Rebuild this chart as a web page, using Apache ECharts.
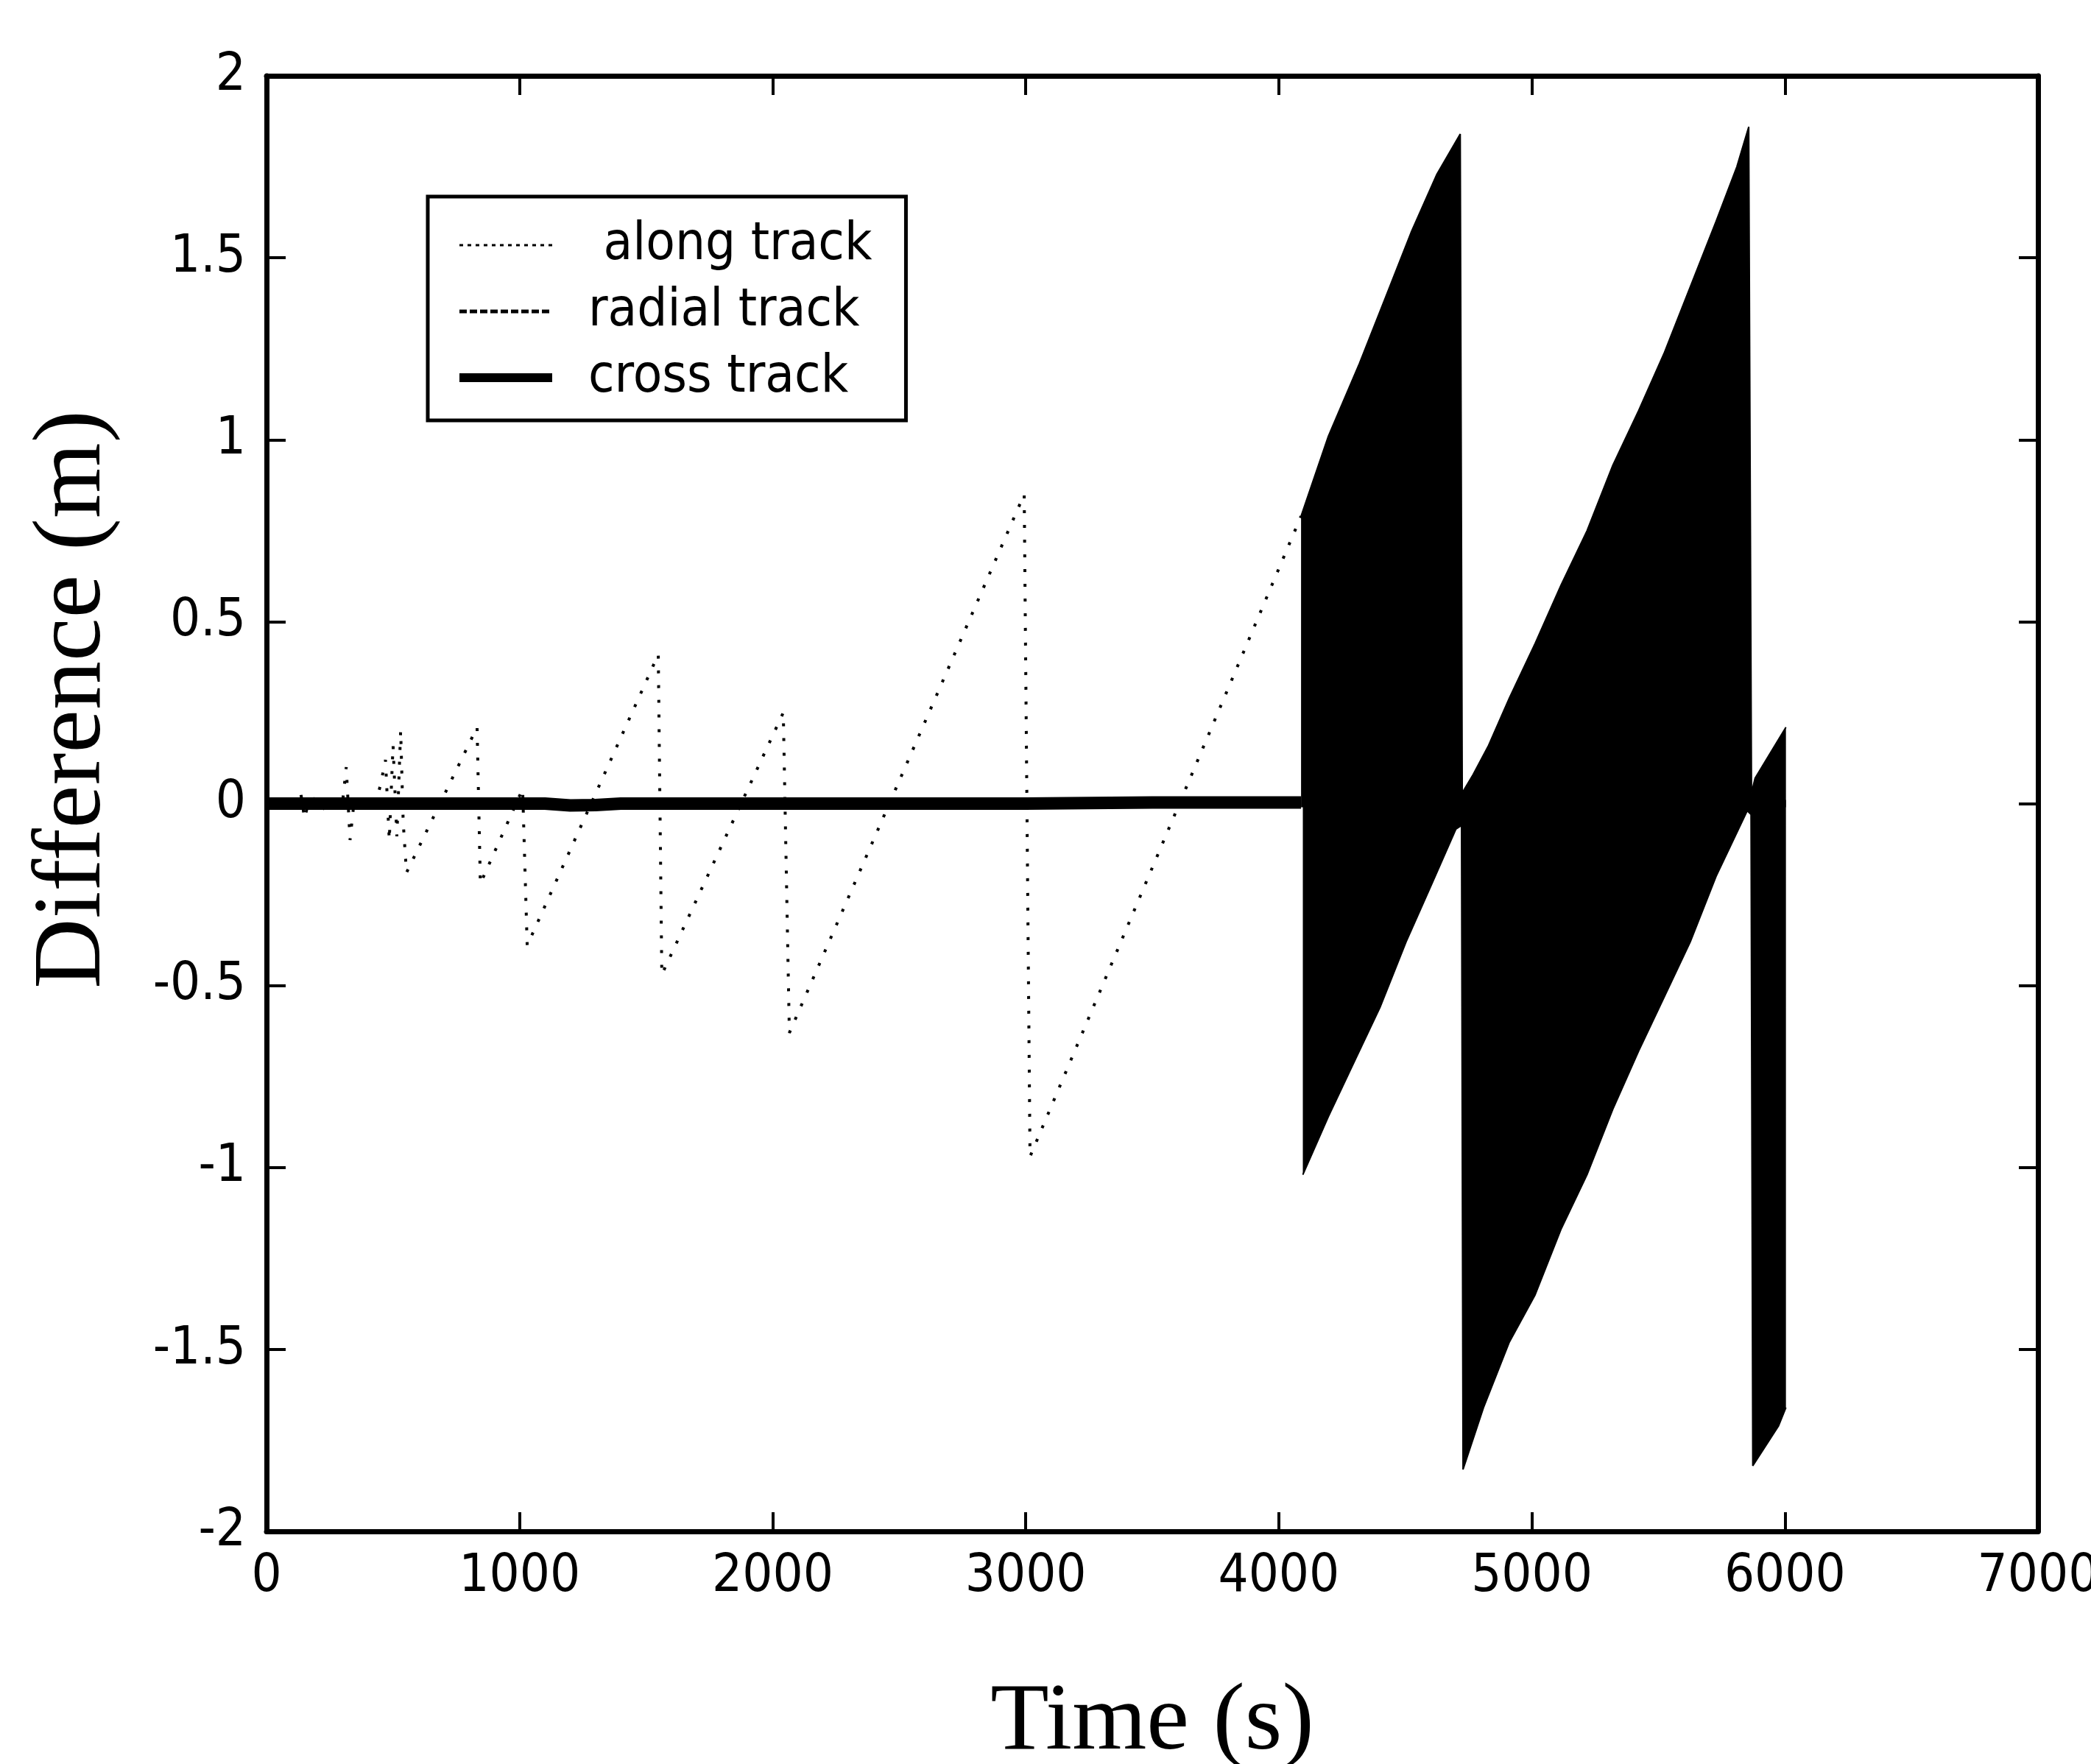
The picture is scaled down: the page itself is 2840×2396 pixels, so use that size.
<!DOCTYPE html>
<html>
<head>
<meta charset="utf-8">
<script src="https://cdn.jsdelivr.net/npm/echarts@6/dist/echarts.min.js"></script>
<style>
  html, body { margin: 0; padding: 0; background: #fff; }
  #chart { width: 2840px; height: 2396px; }
</style>
</head>
<body>
<div id="chart"></div>
<script>
// along track: sawtooth ramps [time (s), difference (m)]
var alongTrack = [
    [0, 0.0], [120, 0.0], [135, 0.03], [150, -0.04], [165, 0.0],
    [200, 0.02], [215, -0.03], [230, 0.0], [300, 0.0], [315, 0.1],
    [330, -0.1], [345, 0.0], [430, 0.0], [450, 0.05], [470, 0.12],
    [485, -0.1], [500, 0.16], [515, -0.09], [530, 0.2], [540, -0.05],
    [553, -0.19], [832, 0.21], [845, -0.22], [1012, 0.04], [1030, -0.39],
    [1548, 0.41], [1562, -0.47], [2042, 0.25], [2066, -0.63], [2994, 0.85],
    [3017, -0.97], [4088, 0.79]
];
// dense oscillating part after 4088 s, kept as its two envelopes
var bandUpper = [
    [4088, 0.79], [4196, 1.01], [4319, 1.21], [4421, 1.39], [4523, 1.57],
    [4625, 1.73], [4717, 1.84], [4725, 0.03], [4768, 0.08], [4829, 0.16],
    [4911, 0.29], [5013, 0.44], [5115, 0.6], [5218, 0.75], [5320, 0.93],
    [5422, 1.08], [5524, 1.24], [5626, 1.42], [5728, 1.6], [5810, 1.75],
    [5857, 1.86], [5868, 0.03], [5882, 0.07], [6004, 0.21]
];
var bandLower = [
    [4095, -1.02], [4196, -0.86], [4298, -0.71], [4400, -0.56], [4503, -0.38],
    [4605, -0.22], [4700, -0.07], [4722, -0.06], [4728, -1.83], [4809, -1.66],
    [4911, -1.48], [5013, -1.35], [5115, -1.17], [5218, -1.02], [5320, -0.84],
    [5422, -0.68], [5524, -0.53], [5626, -0.38], [5728, -0.2], [5851, -0.02],
    [5866, -0.03], [5873, -1.82], [5975, -1.71], [6004, -1.66]
];
var radialTrack = [[0, 0.0], [4088, 0.0]];
var crossTrack = [
    [0, 0.0], [1100, 0.0], [1200, -0.005], [1300, -0.004], [1400, 0.0],
    [3000, 0.0], [3500, 0.003], [4088, 0.003]
];
var xTicks = [0, 7000, 1000];
var yTicks = [-2, 2, 0.5];

var narrow = "'Liberation Sans Narrow', 'DejaVu Sans Condensed', 'Liberation Sans', sans-serif";
var serif = "'Liberation Serif', 'DejaVu Serif', serif";
var clear = 'rgba(0,0,0,0)';

var frameLine = { show: true, onZero: false, lineStyle: { color: '#000', width: 7 } };
var tickIn = { show: true, inside: true, length: 26, lineStyle: { color: '#000', width: 4 } };

var chart = echarts.init(document.getElementById('chart'));
chart.setOption({
    animation: false,
    backgroundColor: '#fff',
    grid: { left: 362, top: 103, right: 72, bottom: 316, outerBoundsMode: 'none' },
    legend: {
        orient: 'vertical',
        left: 581,
        top: 267,
        itemWidth: 126,
        itemHeight: 40,
        itemGap: 18,
        padding: [30, 46, 22, 37],
        borderColor: '#000',
        borderWidth: 5,
        backgroundColor: '#fff',
        itemStyle: { color: clear, borderWidth: 0 },
        textStyle: { fontFamily: narrow, fontSize: 72, lineHeight: 58, color: '#000', padding: [0, 0, 0, 44] },
        data: [
            { name: ' along track', lineStyle: { color: '#000', width: 3, type: [5, 6] } },
            { name: 'radial track', lineStyle: { color: '#000', width: 5, type: [10, 4] } },
            { name: 'cross track', lineStyle: { color: '#000', width: 12 } }
        ]
    },
    xAxis: [
        {
            type: 'value', min: xTicks[0], max: xTicks[1], interval: xTicks[2],
            axisLine: frameLine, axisTick: tickIn, splitLine: { show: false },
            axisLabel: {
                margin: 26, fontFamily: narrow, fontSize: 72, color: '#000',
                formatter: function (v) { return String(v); }
            },
            name: 'Time (s)', nameLocation: 'middle', nameGap: 196,
            nameTextStyle: { fontFamily: serif, fontSize: 130, color: '#000' }
        },
        {
            type: 'value', position: 'top', min: xTicks[0], max: xTicks[1], interval: xTicks[2],
            axisLine: frameLine, axisTick: tickIn, axisLabel: { show: false }, splitLine: { show: false }
        }
    ],
    yAxis: [
        {
            type: 'value', min: yTicks[0], max: yTicks[1], interval: yTicks[2],
            axisLine: frameLine, axisTick: tickIn, splitLine: { show: false },
            axisLabel: { margin: 28, fontFamily: narrow, fontSize: 72, color: '#000' }
        },
        {
            type: 'value', position: 'right', min: yTicks[0], max: yTicks[1], interval: yTicks[2],
            axisLine: frameLine, axisTick: tickIn, axisLabel: { show: false }, splitLine: { show: false }
        }
    ],
    graphic: [{
        type: 'text',
        x: 100,
        y: 950,
        rotation: Math.PI / 2,
        style: {
            text: 'Difference (m)',
            fontFamily: serif,
            fontSize: 132,
            fill: '#000',
            align: 'center',
            verticalAlign: 'middle'
        }
    }],
    series: [
        {
            name: 'cross track', type: 'line', data: crossTrack, symbol: 'none',
            itemStyle: { color: clear },
            lineStyle: { color: '#000', width: 17 }, z: 2
        },
        {
            name: 'radial track', type: 'line', data: radialTrack, symbol: 'none',
            itemStyle: { color: clear },
            lineStyle: { color: '#000', width: 4, type: [12, 6] }, z: 2
        },
        {
            name: ' along track', type: 'line', data: alongTrack, symbol: 'none',
            itemStyle: { color: clear },
            lineStyle: { color: '#000', width: 4, type: [4, 16] }, z: 3
        },
        {
            name: 'along upper', type: 'line', data: bandUpper, symbol: 'none',
            itemStyle: { color: clear },
            lineStyle: { color: '#000', width: 2 },
            areaStyle: { color: '#000', opacity: 1, origin: -0.01 }, z: 4
        },
        {
            name: 'along lower', type: 'line', data: bandLower, symbol: 'none',
            itemStyle: { color: clear },
            lineStyle: { color: '#000', width: 2 },
            areaStyle: { color: '#000', opacity: 1, origin: 0.01 }, z: 4
        }
    ]
});
</script>
</body>
</html>
